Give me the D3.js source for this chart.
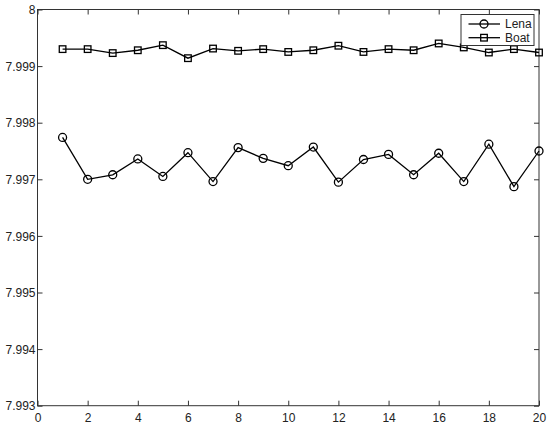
<!DOCTYPE html>
<html><head><meta charset="utf-8">
<script src="https://cdn.jsdelivr.net/npm/d3@7"></script>
<style>body{margin:0;background:#fff}svg{display:block}text{font-family:"Liberation Sans",Arial,sans-serif}</style>
</head><body>
<svg id="c" width="550" height="426"></svg>
<script>
const xs = d3.range(1, 21);
const lena = [7.99774,7.99700,7.99708,7.99736,7.99705,7.99747,7.99696,7.99756,7.99737,7.99724,
              7.99757,7.99695,7.99735,7.99744,7.99708,7.99746,7.99696,7.99762,7.99687,7.99750];
const boat = [7.99930,7.99930,7.99923,7.99928,7.99937,7.99914,7.99931,7.99927,7.99930,7.99925,
              7.99928,7.99936,7.99925,7.99930,7.99928,7.99940,7.99933,7.99924,7.99930,7.99924];
const xTicks = [0,2,4,6,8,10,12,14,16,18,20];
const yTicks = [7.993,7.994,7.995,7.996,7.997,7.998,7.999,8];
const seriesNames = ["Lena","Boat"];

const L=37.5, R=539, T=9.5, B=405.7;
const svg=d3.select("#c");
const x=d3.scaleLinear().domain([0,20]).range([L,R]);
const y=d3.scaleLinear().domain([7.993,8]).range([B,T]);
const axCol="#333";

// frame
svg.append("rect").attr("x",L).attr("y",T).attr("width",R-L).attr("height",B-T)
  .attr("fill","none").attr("stroke",axCol).attr("stroke-width",1);

const fmtY=d=>d===8?"8":d3.format(".3f")(d);
const ax=svg.append("g").attr("transform",`translate(0,${B})`)
  .call(d3.axisBottom(x).tickValues(xTicks).tickSize(-5).tickPadding(6));
const axT=svg.append("g").attr("transform",`translate(0,${T})`)
  .call(d3.axisTop(x).tickValues(xTicks).tickSize(-5).tickFormat(""));
const ay=svg.append("g").attr("transform",`translate(${L},0)`)
  .call(d3.axisLeft(y).tickValues(yTicks).tickSize(-5).tickPadding(2).tickFormat(fmtY));
const ayR=svg.append("g").attr("transform",`translate(${R},0)`)
  .call(d3.axisRight(y).tickValues(yTicks).tickSize(-5).tickFormat(""));
[ax,axT,ay,ayR].forEach(g=>{
  g.select(".domain").remove();
  g.selectAll("line").attr("stroke",axCol);
  g.selectAll("text").attr("fill","#222").style("font-size","12px").style("font-family",'"Liberation Sans",Arial,sans-serif');
});
ax.selectAll("text").attr("dy","0.9em");
ay.selectAll("text").attr("dy","0.35em");

const line=d3.line().x((d,i)=>x(xs[i])).y(d=>y(d));
function drawSeries(vals,kind){
  svg.append("path").datum(vals).attr("d",line).attr("fill","none").attr("stroke","#000").attr("stroke-width",1.3);
  const g=svg.append("g");
  if(kind==="circle"){
    g.selectAll("circle").data(vals).join("circle").attr("cx",(d,i)=>x(xs[i])).attr("cy",d=>y(d))
      .attr("r",4).attr("fill","none").attr("stroke","#000").attr("stroke-width",1.3);
  } else {
    g.selectAll("rect").data(vals).join("rect").attr("x",(d,i)=>x(xs[i])-3.3).attr("y",d=>y(d)-3.3)
      .attr("width",6.6).attr("height",6.6).attr("fill","none").attr("stroke","#000").attr("stroke-width",1.3);
  }
}
drawSeries(lena,"circle");
drawSeries(boat,"square");

// legend
const lg=svg.append("g");
lg.append("rect").attr("x",461).attr("y",14.5).attr("width",73).attr("height",31)
  .attr("fill","#fff").attr("stroke",axCol).attr("stroke-width",1);
seriesNames.forEach((n,i)=>{
  const yy=24+i*13.7;
  lg.append("line").attr("x1",468.5).attr("x2",500).attr("y1",yy).attr("y2",yy).attr("stroke","#000").attr("stroke-width",1.3);
  if(i===0) lg.append("circle").attr("cx",484).attr("cy",yy).attr("r",4).attr("fill","none").attr("stroke","#000").attr("stroke-width",1.3);
  else lg.append("rect").attr("x",484-3.3).attr("y",yy-3.3).attr("width",6.6).attr("height",6.6).attr("fill","none").attr("stroke","#000").attr("stroke-width",1.3);
  lg.append("text").attr("x",505).attr("y",yy).attr("dy","0.35em").style("font-size","12px").attr("fill","#222").text(n);
});
</script>
</body></html>
